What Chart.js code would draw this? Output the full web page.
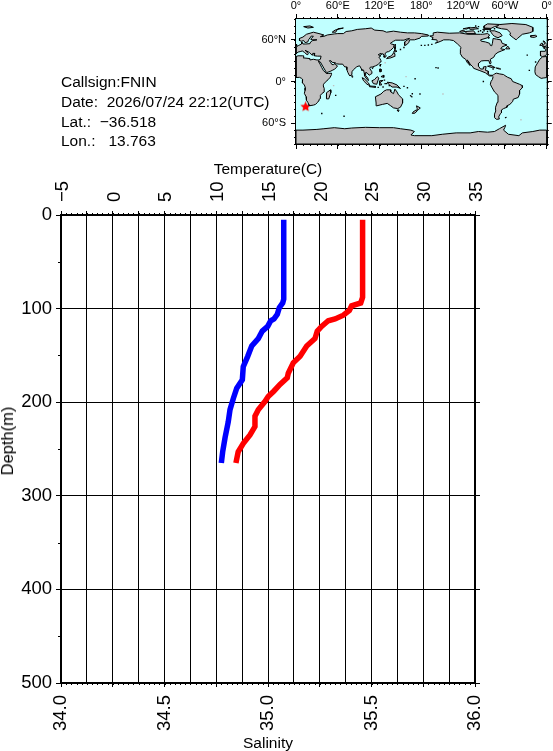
<!DOCTYPE html>
<html lang="en">
<head>
    <meta charset="UTF-8">
    <title>Callsign FNIN profile</title>
    <script src="https://cdn.jsdelivr.net/npm/chart.js"></script>
    <style>
        body { margin: 0; background: #fff; overflow: hidden; font-family: "Liberation Sans", Arial, sans-serif; }
        #profile, #map { position: absolute; top: 0; }
        #profile { left: 0; }
        #map { left: 255px; }
        .info { position: absolute; left: 61px; font-size: 15.5px; line-height: 18px; white-space: pre; color: #000; }
        #depthTitle { position: absolute; left: 7px; top: 441px; font-size: 16.5px; line-height: 18px; white-space: pre; color: #000; transform: translate(-50%, -50%) rotate(-90deg); }
    </style>
</head>
<body>
    <canvas id="profile" width="553" height="751"></canvas>
    <canvas id="map" width="298" height="160"></canvas>
    <div class="info" style="top:73px">Callsign:FNIN</div>
    <div class="info" style="top:93px">Date:  2026/07/24 22:12(UTC)</div>
    <div class="info" style="top:113px">Lat.:  −36.518</div>
    <div class="info" style="top:132px">Lon.:   13.763</div>
    <div id="depthTitle">Depth(m)</div>
    <script>
        // profile values
        const tempDepth = [5, 90, 94, 99, 106, 111, 113, 119, 124, 132, 140, 151, 162, 176, 185, 196, 208, 221, 238, 253, 265];
        const tempValues = [16.52, 16.52, 16.42, 16.09, 15.9, 15.58, 15.26, 14.97, 14.45, 14.06, 13.43, 13.04, 12.61, 12.52, 11.98, 11.65, 11.33, 11.16, 10.85, 10.62, 10.49];
        const salDepth = [5, 88, 94, 97, 102, 107, 111, 113, 119, 124, 132, 140, 151, 158, 169, 174, 181, 188, 194, 199, 208, 215, 226, 235, 244, 253, 265];
        const salValues = [35.457, 35.457, 35.448, 35.404, 35.393, 35.364, 35.324, 35.291, 35.259, 35.238, 35.227, 35.187, 35.155, 35.122, 35.098, 35.093, 35.058, 35.029, 35.001, 34.986, 34.953, 34.937, 34.937, 34.913, 34.881, 34.856, 34.845];

        const tempTicks = [-5, -2.5, 0, 2.5, 5, 7.5, 10, 12.5, 15, 17.5, 20, 22.5, 25, 27.5, 30, 32.5, 35];
        const salTicks = [34, 34.25, 34.5, 34.75, 35, 35.25, 35.5, 35.75, 36];
        const depthTicks = [0, 100, 200, 300, 400, 500];
        const depthMinor = [50, 150, 250, 350, 450];

        const mapLonTicks = [0, 60, 120, 180, 240, 300, 360];
        const mapLonLabels = ['0°', '60°E', '120°E', '180°', '120°W', '60°W', '0°'];
        const mapLatTicks = [-60, 0, 60];
        const mapLatLabels = ['60°S', '0°', '60°N'];

        const shipPosition = [13.763, -36.518];

        // coastlines as [lon, lat], lon running 0..360
        const afroEurasia = [[0,5.7],[5,6],[8,4.5],[9.5,3],[9.5,0],[9,-2],[12,-5],[13.5,-9],[13,-13],[12,-17],[14.5,-22],[15,-27],[17,-30],[18.3,-33],[18.5,-34.3],[20,-34.8],[25,-34],[28,-33],[31,-30],[32.5,-28],[33,-26],[35.5,-24],[35,-20],[37,-17.5],[40.5,-15],[40.5,-10],[39,-6],[39.5,-4],[42,-1],[46,2.5],[49,6],[51,10],[51,12],[47,11.5],[43.5,11.5],[43,12.5],[39.5,15.5],[37,20],[35,24],[33,28],[32.5,30],[34,28],[35,28],[39,21],[42.5,15],[44,12.8],[49,14.5],[52,16],[55,17.5],[58,20],[59.5,22.5],[56.5,24.5],[56,26.5],[54,24.2],[51.5,24.5],[50,27],[48,30],[50,30],[52,27.5],[56.5,27],[58,25.5],[62,25],[67,25],[68,23.5],[70,21],[72.8,21],[73,17],[74.5,13],[76.5,9],[77.5,8],[80,10],[80.3,14],[82.5,17],[87,21],[89,22],[91.5,22.5],[94,18],[94.5,16],[97,16.5],[98,12],[98.5,8],[100.5,5],[103.5,1.3],[104,2],[103,5],[100,8.5],[100,13],[102,12.5],[105,9],[106.5,10],[109,11.5],[109,14],[106,18.5],[106.5,20.5],[110,21],[114,22.5],[118,24.5],[121,28],[122,30],[120.5,33],[119,35],[122,37],[118,38.5],[121.5,40.5],[122,39],[125,40],[126.5,37.5],[126.5,35],[128.5,35],[129.5,37],[127.5,39.5],[130,42.5],[133,43],[136,45],[140,49],[141,53],[137,54],[135.5,55],[140,58],[143,59.5],[150,59.5],[155,59.5],[160,61.5],[163,62],[156,57],[156,52],[158,52.5],[162,56],[163,60],[170,60],[178,62.5],[180,65],[190,65.5],[190,67],[180,69],[170,70],[160,70],[150,71],[140,72.5],[130,71],[125,73],[113,74],[108,77],[100,76],[88,75],[80,73],[72,72],[68,69],[60,69],[55,68.5],[45,67],[40,65],[35,64.5],[40,67],[33,69],[25,71],[15,68],[10,64],[5,62],[5,59],[8,58],[11,59],[13,56],[17,57],[18,60],[21,64],[22,65.5],[25,65],[21,61],[23,60],[30,60],[24,59],[21,57],[20,54.5],[14,54],[10,54],[8.5,57],[8,54],[4,52],[1.5,50.5],[0,49.5],[0,39.5],[3,42.5],[6,43],[9,44],[12,42],[16,38.5],[18,40],[13,45],[19,42],[23,38],[24,40.5],[27,40.5],[26,40],[26.5,37],[31,36.5],[36,36.5],[35,32],[33,31],[30,31],[25,32],[20,31],[20,33],[10.5,34],[11,37],[9,37],[3,37],[0,36]];
        const westAfrica = [[360,5.7],[355,5],[352,4.5],[348,7],[344,10],[343,14],[343.5,21],[347,27],[350,32],[354,35.5],[360,36]];
        const iberia = [[360,49.5],[358,49.5],[355,48.5],[359,46],[358,43.5],[351,43.5],[351,37],[354,36],[358,37],[360,39.5]];
        const americas = [[282,8],[278,8],[275,10],[272,12.5],[267,14.5],[263,16],[255,19],[254,21],[250,25],[247,30],[245.5,31],[249,25],[250,23],[246,27],[243.5,32],[239,35],[236,40],[236,46],[237,49],[232,54],[226,59],[220,60],[212,60],[208,58],[200,55],[203,58],[202,60],[195,60.5],[197,63],[192,65.5],[197,66],[197,70],[203,71],[220,69.5],[235,70],[247,68],[265,68],[268,68],[275,69],[278,67],[275,63],[265,60],[266,58],[272,57],[278,55],[279,52],[281,51.5],[282,55],[283,62],[288,61],[294,60],[296,55],[303,52.5],[296,50],[294,47],[300,46],[295,44],[290,42],[286,39],[284,35],[279,32],[280,27],[279,25],[278,26],[277,30],[270,30],[266,29.5],[262,26],[262,22],[265,18],[269,18],[269,21],[273,21.5],[272,16],[276,15],[276,11],[278,9],[283,9],[285,11],[288,12],[292,11],[298,10],[300,8.5],[304,6],[309,4],[311,0],[316,-2],[321,-4],[325,-6],[325,-9],[321,-13],[321,-18],[319,-23],[312,-25.5],[311,-29],[307,-33],[303,-35],[303,-37],[298,-39],[295,-41],[295,-45],[293,-47],[291,-51],[292,-54],[288,-54.5],[285,-52],[285,-47],[287,-42],[286.5,-37],[289,-30],[290,-20],[285,-15],[281,-8],[279,-4],[280,0],[282,3],[283,7]];
        const greenland = [[287,78],[292,82],[310,83.5],[330,82],[340,78],[340,72],[335,70],[325,68],[318,62],[316,60],[312,63],[307,67],[308,70],[303,75],[295,76]];
        const australia = [[114,-22],[122,-18],[126,-14],[130,-12],[136,-12],[136,-15],[140,-17.5],[142,-11],[145,-15],[147,-19],[153,-25],[153,-31],[150,-37],[146,-39],[140,-38],[136,-35],[131,-31.5],[124,-33],[116,-35],[115,-31]];
        const antarctica = [[0,-70],[10,-70],[30,-69],[40,-68],[55,-66.5],[70,-68],[80,-67],[100,-66],[120,-66.5],[140,-66.5],[150,-68],[165,-70],[170,-72],[165,-77],[170,-78],[195,-78],[210,-76],[230,-74],[250,-74],[262,-72],[275,-73],[285,-72],[292,-68],[301,-63],[300,-66],[298,-70],[305,-76],[320,-78],[325,-74],[340,-72],[350,-70],[360,-70],[360,-90],[0,-90]];
        const islands = [
            [[44,-16],[49.5,-12],[50,-16],[47,-25],[44,-25],[43.5,-21]],
            [[0,51],[1.5,51.5],[1.5,52.8],[0,53.5]],
            [[354,50],[360,51],[360,53.5],[358,56],[356,58.5],[355,58],[357,55],[355,52]],
            [[350,52],[354,52],[354,55],[352,55]],
            [[337,64],[342,63.5],[346,65],[344,66.5],[337,66]],
            [[11,79],[20,80],[25,78],[17,77]],
            [[52,71],[57,71],[60,76],[68,77],[56,74]],
            [[80,9],[82,7],[80.5,6]],
            [[95,5.5],[98,4],[104,-2],[106,-6],[102,-4],[97,1]],
            [[105.5,-6.5],[114,-7],[114,-8.5],[106,-7.5]],
            [[109,1],[113,3],[116.5,7],[119,5],[117.5,1],[116,-4],[111,-3]],
            [[119.5,-5],[120,1],[125,1.5],[121,-1],[123,-5]],
            [[131,-1],[138,-2],[145,-5],[150,-10],[145,-8],[138,-8],[133,-4]],
            [[120,18],[122,18],[122,14],[120,14]],
            [[122,7],[126,9],[126,6]],
            [[120.5,23],[122,25],[121,22]],
            [[109,19],[111,20],[110,18.5]],
            [[130,33],[136,34],[141,36],[142,40],[140,41],[137,37],[132,35]],
            [[140,42],[145,43.5],[142,45.5]],
            [[142,46],[143,50],[142.5,54],[142,50]],
            [[145,-41],[148,-41],[147,-43.5]],
            [[173,-35],[178.5,-38],[175,-41.5],[174,-39]],
            [[172.5,-41],[174,-42],[171,-45.5],[167,-46],[168,-44]],
            [[278,73],[285,73],[293,70],[296,66],[290,63],[285,65],[282,68],[280,71]],
            [[243,72],[255,73],[258,69],[245,69]],
            [[235,72],[240,74],[243,72],[238,71]],
            [[270,77],[280,76.5],[285,79],[295,82],[275,83],[270,80]],
            [[268,75],[280,75],[278,76.5],[270,76]],
            [[250,75],[262,76],[258,78],[248,77]],
            [[240,76],[250,78],[245,75.5]],
            [[275,64],[278,63],[276,62]],
            [[301,47],[307,47],[304,51]],
            [[275,22],[280,23],[286,20],[282,20]],
            [[287.5,19.5],[292,19],[291,18]],
            [[300,-52],[302,-51.5],[301,-52.5]],
            [[164,-20],[167,-22],[166,-22.5]]
        ];
        // water cut back out of the big land shape
        const blackSea = [[28,42],[28,45],[31,46.5],[37,46],[40,43],[36,41.5],[31,41]];
        const caspianSea = [[47,45],[53,46],[53,40],[54,37],[50,37],[49,41]];

        const islandDots = [[201,20],[204,19.5],[167,-17.6],[171,4],[69,-50],[37,-46],[335,16],[332,38],[344,28],[57,-20],[160,-9],[155,-7],[178,-18],[185,52],[190,52.5],[195,53.5],[180,52],[269,0],[283,18],[293,18],[150,46],[155,49],[262,72],[265,73],[255,76],[270,73],[275,72],[285,76],[262,79],[268,71],[252,71],[290,78],[258,80],[128,-3],[125,-8],[118,-8.5],[134,-6],[127,2],[130,-3]];
        const greyDots = [[54,-6],[323,-55],[211,-18],[158,7],[128,27]];

        const range = (a, b, step) => {
            const out = [];
            for (let v = a; v <= b + step / 2; v += step) out.push(+v.toFixed(4));
            return out;
        };

        const minorTicks = {
            id: 'minorTicks',
            afterDraw(chart, args, opts) {
                const c = chart.ctx;
                c.save();
                c.strokeStyle = '#000';
                c.lineWidth = 1;
                opts.list.forEach(m => {
                    const s = chart.scales[m.axis];
                    m.values.forEach(v => {
                        const p = Math.round(s.getPixelForValue(v)) + 0.5;
                        c.beginPath();
                        if (s.isHorizontal()) {
                            const y = s.position === 'top' ? s.bottom : s.top;
                            c.moveTo(p, y);
                            c.lineTo(p, s.position === 'top' ? y - m.len : y + m.len);
                        } else {
                            const x = s.position === 'left' ? s.right : s.left;
                            c.moveTo(x, p);
                            c.lineTo(s.position === 'left' ? x - m.len : x + m.len, p);
                        }
                        c.stroke();
                    });
                });
                c.restore();
            }
        };

        const labelFont = { family: '"Liberation Sans", Arial, sans-serif', size: 18.5 };
        const titleFont = { family: '"Liberation Sans", Arial, sans-serif', size: 15.5 };
        const black = '#000';

        new Chart(document.getElementById('profile'), {
            type: 'scatter',
            data: {
                datasets: [
                    { label: 'Temperature', data: tempValues.map((v, i) => ({ x: v, y: tempDepth[i] })), xAxisID: 'xTemp', yAxisID: 'y', showLine: true, borderColor: '#0000ff', borderWidth: 5.5, pointRadius: 0 },
                    { label: 'Salinity', data: salValues.map((v, i) => ({ x: v, y: salDepth[i] })), xAxisID: 'xSal', yAxisID: 'y', showLine: true, borderColor: '#ff0000', borderWidth: 5.5, pointRadius: 0 }
                ]
            },
            options: {
                responsive: false,
                animation: false,
                layout: { padding: { top: 160, left: 0, right: 0, bottom: 0 } },
                plugins: {
                    legend: { display: false },
                    tooltip: { enabled: false },
                    minorTicks: {
                        list: [
                            { axis: 'xTemp', values: range(-5, 35, 0.5), len: 2 },
                            { axis: 'xSal', values: range(34, 36, 0.025), len: 2 },
                            { axis: 'y', values: depthMinor, len: 3 }
                        ]
                    }
                },
                scales: {
                    xTemp: {
                        type: 'linear', position: 'top', min: -5, max: 35,
                        afterBuildTicks: s => { s.ticks = tempTicks.map(v => ({ value: v })); },
                        afterFit: s => { s.height = 55; },
                        border: { color: black, width: 2 },
                        grid: { color: black, tickColor: black, tickLength: 4 },
                        title: { display: true, text: 'Temperature(C)', color: black, font: titleFont, padding: 0 },
                        ticks: {
                            autoSkip: false, minRotation: 90, maxRotation: 90, padding: 9, labelOffset: 24, color: black, font: labelFont,
                            callback: v => v % 5 === 0 ? String(v).replace('-', '−') : ''
                        }
                    },
                    xSal: {
                        type: 'linear', position: 'bottom', min: 34, max: 36,
                        afterBuildTicks: s => { s.ticks = salTicks.map(v => ({ value: v })); },
                        afterFit: s => { s.height = 68; },
                        border: { color: black, width: 2 },
                        grid: { drawOnChartArea: false, color: black, tickColor: black, tickLength: 4 },
                        title: { display: true, text: 'Salinity', color: black, font: titleFont, padding: { top: 0, bottom: -2 } },
                        ticks: {
                            autoSkip: false, minRotation: 90, maxRotation: 90, padding: 8, color: black, font: labelFont,
                            callback: v => v % 0.5 === 0 ? v.toFixed(1) : ''
                        }
                    },
                    y: {
                        type: 'linear', position: 'left', reverse: true, min: 0, max: 500,
                        afterBuildTicks: s => { s.ticks = depthTicks.map(v => ({ value: v })); },
                        afterFit: s => { s.width = 61; },
                        border: { color: black, width: 2 },
                        grid: { color: black, tickColor: black, tickLength: 5 },
                        ticks: { padding: 4, color: black, font: labelFont }
                    },
                    yRight: {
                        type: 'linear', position: 'right', reverse: true, min: 0, max: 500,
                        afterBuildTicks: s => { s.ticks = depthTicks.map(v => ({ value: v })); },
                        afterFit: s => { s.width = 78; },
                        border: { color: black, width: 2 },
                        grid: { drawOnChartArea: false, color: black, tickColor: black, tickLength: 5 },
                        ticks: { display: false }
                    }
                }
            },
            plugins: [minorTicks]
        });

        // map: ocean background behind the land polygons
        const oceanFill = {
            id: 'oceanFill',
            beforeDatasetsDraw(chart) {
                const a = chart.chartArea;
                chart.ctx.fillStyle = '#c0ffff';
                chart.ctx.fillRect(a.left, a.top, a.right - a.left, a.bottom - a.top);
            }
        };

        const starImage = document.createElement('canvas');
        starImage.width = starImage.height = 11;
        const sc = starImage.getContext('2d');
        sc.fillStyle = '#ff0000';
        sc.beginPath();
        for (let i = 0; i < 10; i++) {
            const r = i % 2 ? 2.6 : 5.4;
            const t = -Math.PI / 2 + i * Math.PI / 5;
            sc.lineTo(5.5 + r * Math.cos(t), 5.5 + r * Math.sin(t));
        }
        sc.fill();

        const toPoints = list => list.map(p => ({ x: p[0], y: p[1] }));
        const polygon = (list, fillColor) => ({
            data: toPoints(list.concat([list[0]])),
            showLine: true, fill: 'shape', backgroundColor: fillColor,
            borderColor: black, borderWidth: 1, pointRadius: 0
        });
        const landShapes = [afroEurasia, westAfrica, iberia, americas, greenland, australia, antarctica, ...islands];
        const waterShapes = [blackSea, caspianSea];
        const mapDatasets = landShapes.map(s => polygon(s, '#c0c0c0'))
            .concat(waterShapes.map(s => polygon(s, '#c0ffff')));
        mapDatasets.push({ data: toPoints(islandDots), pointStyle: 'rect', pointRadius: 1, backgroundColor: black, borderWidth: 0 });
        mapDatasets.push({ data: toPoints(greyDots), pointStyle: 'rect', pointRadius: 1, backgroundColor: '#c0c0c0', borderWidth: 0 });
        mapDatasets.push({ data: toPoints([shipPosition]), pointStyle: starImage, pointRadius: 5 });

        const mapFont = { family: '"Liberation Sans", Arial, sans-serif', size: 11 };
        const mapMinorLon = range(0, 360, 10);
        const mapMinorLat = range(-90, 90, 10);
        const lonAxis = (position, height, showLabels) => ({
            type: 'linear', position, min: 0, max: 360, z: 1,
            afterBuildTicks: s => { s.ticks = mapLonTicks.map(v => ({ value: v })); },
            afterFit: s => { s.height = height; },
            border: { color: black, width: 2 },
            grid: { drawOnChartArea: false, color: black, tickColor: black, tickLength: 5 },
            ticks: {
                display: showLabels, autoSkip: false, maxRotation: 0, padding: 1, color: black, font: mapFont,
                callback: v => mapLonLabels[mapLonTicks.indexOf(v)]
            }
        });
        const latAxis = (position, width, showLabels) => ({
            type: 'linear', position, min: -90, max: 90, z: 1,
            afterBuildTicks: s => { s.ticks = mapLatTicks.map(v => ({ value: v })); },
            afterFit: s => { s.width = width; },
            border: { color: black, width: 2 },
            grid: { drawOnChartArea: false, color: black, tickColor: black, tickLength: 5 },
            ticks: {
                display: showLabels, padding: 5, color: black, font: mapFont,
                callback: v => mapLatLabels[mapLatTicks.indexOf(v)]
            }
        });

        new Chart(document.getElementById('map'), {
            type: 'scatter',
            data: { datasets: mapDatasets },
            options: {
                responsive: false,
                animation: false,
                plugins: {
                    legend: { display: false },
                    tooltip: { enabled: false },
                    minorTicks: {
                        list: [
                            { axis: 'x', values: mapMinorLon, len: 2 },
                            { axis: 'xBottom', values: mapMinorLon, len: 2 },
                            { axis: 'y', values: mapMinorLat, len: 2 },
                            { axis: 'yRight', values: mapMinorLat, len: 2 }
                        ]
                    }
                },
                scales: {
                    x: lonAxis('top', 19, true),
                    xBottom: lonAxis('bottom', 16, false),
                    y: latAxis('left', 41, true),
                    yRight: latAxis('right', 6, false)
                }
            },
            plugins: [minorTicks, oceanFill]
        });
    </script>
</body>
</html>
